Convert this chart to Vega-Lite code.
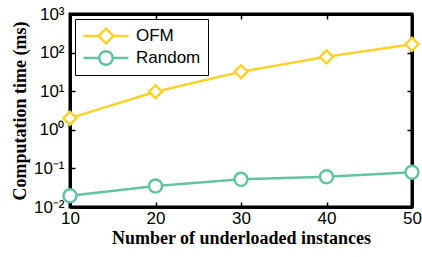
{
  "$schema": "https://vega.github.io/schema/vega-lite/v6.json",
  "width": 342,
  "height": 193,
  "autosize": {"type": "none"},
  "padding": {"left": 70, "top": 14, "right": 10, "bottom": 50},
  "background": "white",
  "config": {
    "view": {"stroke": "black", "strokeWidth": 3},
    "axis": {
      "labelFont": "Liberation Sans",
      "labelFontSize": 17,
      "labelColor": "black",
      "titleFont": "Liberation Serif",
      "titleFontSize": 18,
      "titleFontWeight": "bold",
      "titleColor": "black",
      "domainColor": "black",
      "domainWidth": 3,
      "tickColor": "black",
      "tickWidth": 1.5,
      "grid": false,
      "labelFlush": false
    },
    "legend": {
      "orient": "top-left", "offset": 5,
      "fillColor": "white", "strokeColor": "black", "padding": 7,
      "labelFont": "Liberation Sans", "labelFontSize": 17, "labelColor": "black",
      "symbolStrokeWidth": 2.5, "symbolSize": 2025, "clipHeight": 20,
      "labelOffset": 6
    }
  },
  "data": {
    "values": [
      {"x": 10, "series": "OFM", "t": 2.0},
      {"x": 20, "series": "OFM", "t": 9.7},
      {"x": 30, "series": "OFM", "t": 32},
      {"x": 40, "series": "OFM", "t": 78},
      {"x": 50, "series": "OFM", "t": 164},
      {"x": 10, "series": "Random", "t": 0.0196},
      {"x": 20, "series": "Random", "t": 0.035},
      {"x": 30, "series": "Random", "t": 0.052},
      {"x": 40, "series": "Random", "t": 0.061},
      {"x": 50, "series": "Random", "t": 0.079}
    ]
  },
  "resolve": {
    "scale": {"x": "independent", "y": "independent", "shape": "independent", "stroke": "independent"},
    "axis": {"x": "independent", "y": "independent"}
  },
  "layer": [
    {
      "mark": {"type": "line", "strokeWidth": 2.5},
      "encoding": {
        "x": {"field": "x", "type": "quantitative",
              "scale": {"domain": [10, 50], "nice": false, "zero": false},
              "axis": {"values": [10, 20, 30, 40, 50], "orient": "bottom", "tickSize": -5,
                       "labelPadding": 8, "title": "Number of underloaded instances", "titlePadding": 3}},
        "y": {"field": "t", "type": "quantitative",
              "scale": {"type": "log", "domain": [0.01, 1000], "nice": false},
              "axis": {"values": [0.01, 0.1, 1, 10, 100, 1000], "orient": "left", "tickSize": -5,
                       "labelPadding": 11,
                       "labelExpr": "datum.value > 500 ? '10³' : datum.value > 50 ? '10²' : datum.value > 5 ? '10¹' : datum.value > 0.5 ? '10⁰' : datum.value > 0.05 ? '10⁻¹' : '10⁻²'",
                       "title": "Computation time (ms)", "titlePadding": 4}},
        "color": {"field": "series", "type": "nominal",
                  "scale": {"domain": ["OFM", "Random"], "range": ["#F9D22F", "#66C2A5"]},
                  "legend": null}
      }
    },
    {
      "mark": {"type": "point", "fill": "white", "fillOpacity": 1, "opacity": 1, "strokeWidth": 2.5, "size": 170},
      "encoding": {
        "x": {"field": "x", "type": "quantitative",
              "scale": {"domain": [10, 50], "nice": false, "zero": false},
              "axis": {"values": [10, 20, 30, 40, 50], "orient": "top", "tickSize": -5, "labels": false, "title": null}},
        "y": {"field": "t", "type": "quantitative",
              "scale": {"type": "log", "domain": [0.01, 1000], "nice": false},
              "axis": {"values": [0.01, 0.1, 1, 10, 100, 1000], "orient": "right", "tickSize": -5, "labels": false, "title": null}},
        "stroke": {"field": "series", "type": "nominal",
                   "scale": {"domain": ["OFM", "Random"], "range": ["#F9D22F", "#66C2A5"]},
                   "legend": null},
        "shape": {"field": "series", "type": "nominal",
                  "scale": {"domain": ["OFM", "Random"], "range": ["diamond", "circle"]},
                  "legend": null}
      }
    },
    {
      "mark": {"type": "point", "opacity": 0, "filled": false, "strokeWidth": 2.5, "size": 2025},
      "encoding": {
        "x": {"field": "x", "type": "quantitative",
              "scale": {"domain": [10, 50], "nice": false, "zero": false}, "axis": null},
        "y": {"field": "t", "type": "quantitative",
              "scale": {"type": "log", "domain": [0.01, 1000], "nice": false}, "axis": null},
        "stroke": {"field": "series", "type": "nominal",
                   "scale": {"domain": ["OFM", "Random"], "range": ["#F9D22F", "#66C2A5"]},
                   "legend": {"title": null}},
        "shape": {"field": "series", "type": "nominal",
                  "scale": {"domain": ["OFM", "Random"],
                            "range": ["M-1,0L-0.33,0M0.33,0L1,0M0,-0.33L0.33,0L0,0.33L-0.33,0Z",
                                      "M-1,0L-0.3,0M0.3,0L1,0M0.3,0A0.3,0.3,0,1,1,-0.3,0A0.3,0.3,0,1,1,0.3,0Z"]},
                  "legend": {"title": null}}
      }
    }
  ]
}
